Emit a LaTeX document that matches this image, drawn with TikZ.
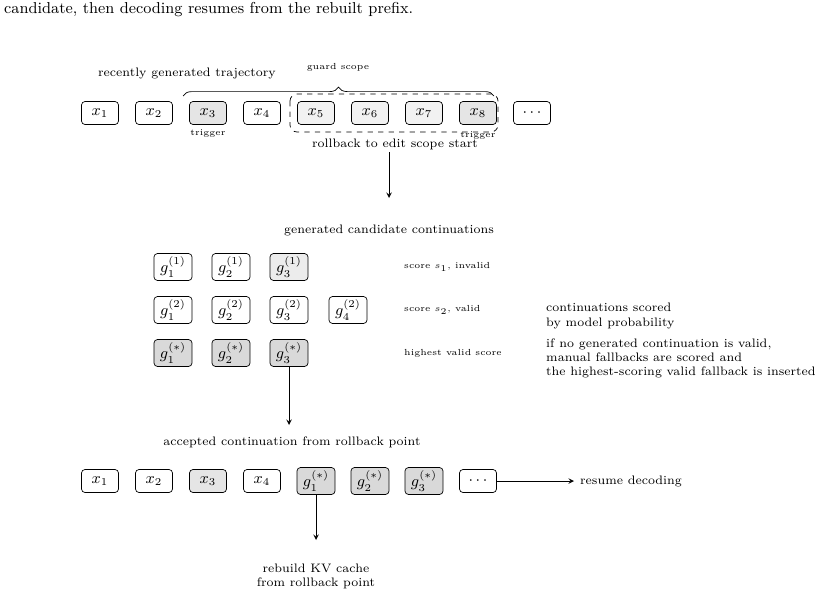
\documentclass[tikz,border=0pt]{standalone}
\usetikzlibrary{decorations.pathreplacing}
\tikzset{
	tok/.style={rectangle, rounded corners=2pt, minimum width=0.74cm, minimum height=0.46cm, text centered, draw=black, font=\small},
	cand/.style={rectangle, rounded corners=2pt, minimum width=0.76cm, minimum height=0.54cm, text centered, draw=black, font=\small, inner sep=1pt},
	lbl/.style={font=\scriptsize, align=left},
	arrow/.style={->, >=stealth},
}
\begin{document}
\begin{tikzpicture}[x=0.02cm,y=-0.02cm]
\useasboundingbox (0,0) rectangle (826,595);

\node [anchor=west, font=\small] (cap) at (-2,10) {candidate, then decoding resumes from the rebuilt prefix.};

% trajectory
\node [lbl] (trajl) at (187,73) {recently generated trajectory};
\node [tok] (t1) at (100,113) {$x_1$};
\node [tok] (t2) at (154,113) {$x_2$};
\node [tok, fill=gray!20] (t3) at (208,113) {$x_3$};
\node [tok] (t4) at (262,113) {$x_4$};
\node [tok, fill=gray!10] (t5) at (316,113) {$x_5$};
\node [tok, fill=gray!10] (t6) at (370,113) {$x_6$};
\node [tok, fill=gray!10] (t7) at (424,113) {$x_7$};
\node [tok, fill=gray!20] (t8) at (478,113) {$x_8$};
\node [tok] (t9) at (532,113) {$\cdots$};

% guard scope
\draw [decorate, decoration={brace, amplitude=5pt}] (183,96) -- (494,96);
\node [font=\tiny] (guard) at (338,67) {guard scope};
\draw [dashed, rounded corners=4pt] (290,94) rectangle (498,132);
\node [font=\tiny] (trig1) at (208,134) {trigger};
\node [font=\tiny] (trig2) at (478,136) {trigger};
\node [lbl] (rollb) at (395,144) {rollback to edit scope start};

\coordinate (a1) at (389,152);
\coordinate (a2) at (389,198);
\draw [arrow] (a1) -- (a2);

% candidates
\node [lbl] (gen) at (389,230) {generated candidate continuations};
\node [cand] (c11) at (173,267) {$g_1^{(1)}$};
\node [cand] (c12) at (231,267) {$g_2^{(1)}$};
\node [cand, fill=gray!15] (c13) at (289,267) {$g_3^{(1)}$};
\node [cand] (c21) at (173,310) {$g_1^{(2)}$};
\node [cand] (c22) at (231,310) {$g_2^{(2)}$};
\node [cand] (c23) at (289,310) {$g_3^{(2)}$};
\node [cand] (c24) at (348,310) {$g_4^{(2)}$};
\node [cand, fill=gray!30] (c31) at (173,353) {$g_1^{(*)}$};
\node [cand, fill=gray!30] (c32) at (231,353) {$g_2^{(*)}$};
\node [cand, fill=gray!30] (c33) at (289,353) {$g_3^{(*)}$};

\node [lbl, anchor=west, font=\tiny] (s1) at (398,267) {score $s_1$, invalid};
\node [lbl, anchor=west, font=\tiny] (s2) at (398,310) {score $s_2$, valid};
\node [lbl, anchor=west, font=\tiny] (s3) at (398,353) {highest valid score};
\node [lbl, anchor=west] (note1) at (540,316) {continuations scored\\by model probability};
\node [lbl, anchor=west] (note2) at (540,358) {if no generated continuation is valid,\\manual fallbacks are scored and\\the highest-scoring valid fallback is inserted};

\draw [arrow] (c33) -- (289,425);

% accepted
\node [lbl] (acc) at (292,442) {accepted continuation from rollback point};
\node [tok] (b1) at (100,481) {$x_1$};
\node [tok] (b2) at (154,481) {$x_2$};
\node [tok, fill=gray!20] (b3) at (208,481) {$x_3$};
\node [tok] (b4) at (262,481) {$x_4$};
\node [cand, fill=gray!30] (b5) at (316,481) {$g_1^{(*)}$};
\node [cand, fill=gray!30] (b6) at (370,481) {$g_2^{(*)}$};
\node [cand, fill=gray!30] (b7) at (424,481) {$g_3^{(*)}$};
\node [tok] (b8) at (478,481) {$\cdots$};

\node [lbl, anchor=west] (resume) at (574,481) {resume decoding};
\draw [arrow] (b8) -- (resume);
\coordinate (kv) at (316,540);
\draw [arrow] (b5) -- (kv);
\node [lbl, align=center] (kvl) at (316,576) {rebuild KV cache\\from rollback point};
\end{tikzpicture}
\end{document}
